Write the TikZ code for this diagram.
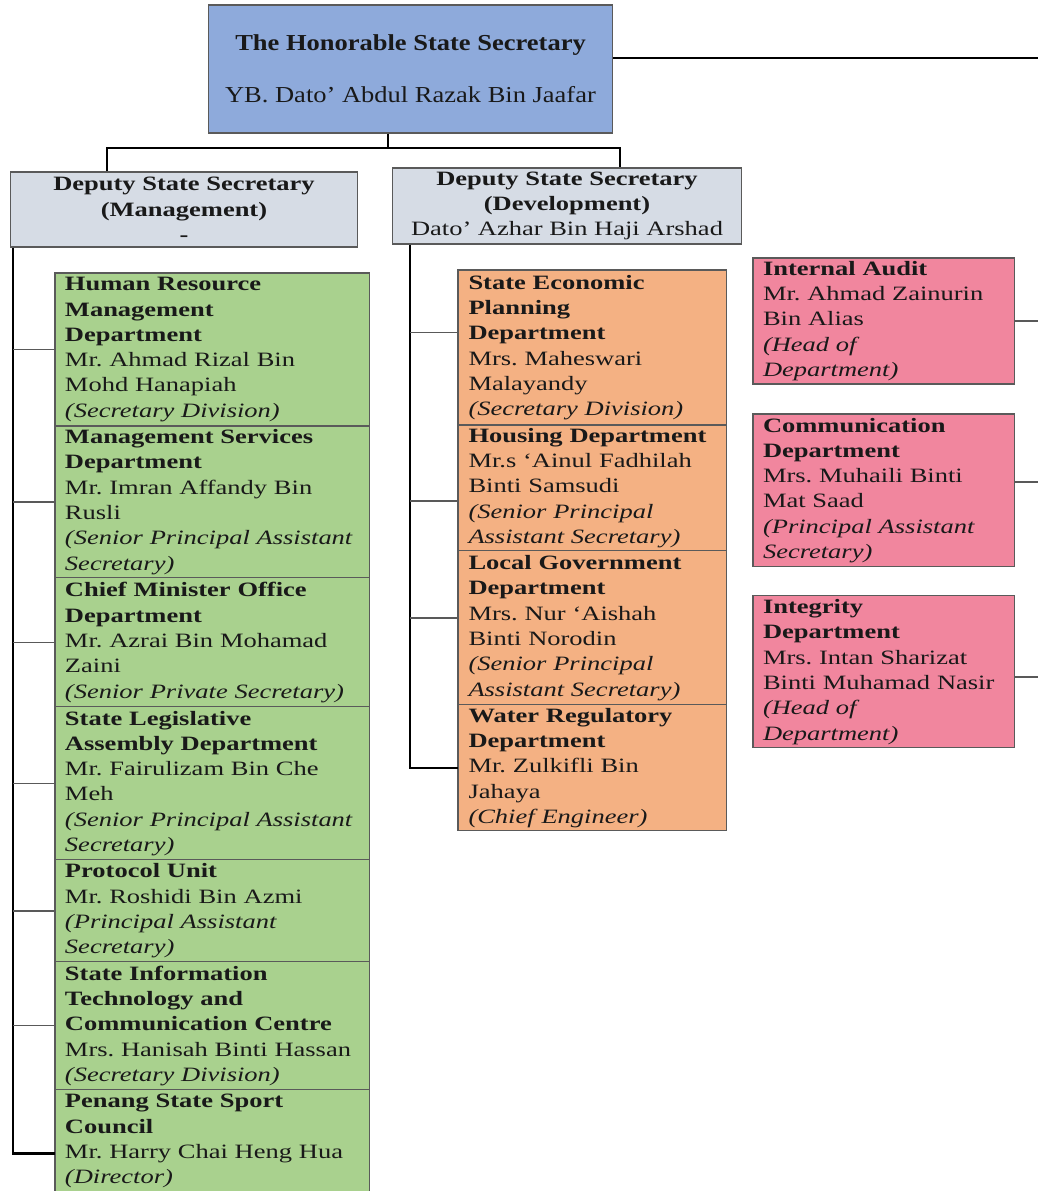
\documentclass[tikz,border=0pt]{standalone}
\usepackage{fontspec}
\setmainfont{Liberation Serif}[FakeStretch=1.3]
\newfontfamily\headfont{Liberation Serif}[FakeStretch=1.16]
\usepackage{xcolor}
\usetikzlibrary{positioning}

\definecolor{headblue}{RGB}{142,170,219}
\definecolor{deputygray}{RGB}{214,220,229}
\definecolor{mgmtgreen}{RGB}{169,209,142}
\definecolor{devorange}{RGB}{244,177,131}
\definecolor{unitpink}{RGB}{241,134,158}
\definecolor{boxline}{RGB}{90,90,90}

\begin{document}
\frenchspacing
\begin{tikzpicture}[
  x=0.02cm, y=-0.02cm,
  every node/.style={font=\fontsize{11.6}{14.4}\selectfont, text=black!90},
  trunk/.style={line width=1.6pt, black},
  branch/.style={line width=0.7pt, black!65},
  box/.style={draw=boxline, line width=0.6pt, inner ysep=0pt, outer sep=0pt, align=left, anchor=north west},
  mgmt/.style={box, fill=mgmtgreen, text width=5.9cm, inner xsep=0.2cm},
  dev/.style={box, fill=devorange, text width=4.96cm, inner xsep=0.21cm},
  unit/.style={box, fill=unitpink, text width=4.84cm, inner xsep=0.2cm},
  deputy/.style={draw=boxline, line width=0.6pt, fill=deputygray, align=center, inner sep=1pt, minimum height=1.5cm}
]
\useasboundingbox (0,0) rectangle (1038,1191);

% State Secretary
\node[draw=boxline, line width=0.6pt, fill=headblue, minimum width=8.1cm, minimum height=2.56cm,
  align=center, font=\headfont\fontsize{13}{15.6}\selectfont]
  (head) at (410.5,69) {\textbf{The Honorable State Secretary}\\[14pt]YB. Dato’ Abdul Razak Bin Jaafar};

% Deputies
\node[deputy, minimum width=6.96cm] (dmgmt) at (184,209.5)
  {\textbf{Deputy State Secretary}\\\textbf{(Management)}\\\textbf{-}};
\node[deputy, minimum width=7cm, minimum height=1.52cm] (ddev) at (567,206)
  {\textbf{Deputy State Secretary}\\\textbf{(Development)}\\Dato’ Azhar Bin Haji Arshad};

% Management departments (green)
\node[mgmt, minimum height=3.06cm] (hrm) at (55,273)
  {\textbf{Human Resource}\\\textbf{Management}\\\textbf{Department}\\Mr. Ahmad Rizal Bin\\Mohd Hanapiah\\\textit{(Secretary Division)}};
\node[mgmt, minimum height=3.04cm] (msd) at (hrm.south west)
  {\textbf{Management Services}\\\textbf{Department}\\Mr. Imran Affandy Bin\\Rusli\\\textit{(Senior Principal Assistant}\\\textit{Secretary)}};
\node[mgmt, minimum height=2.58cm] (cmo) at (msd.south west)
  {\textbf{Chief Minister Office}\\\textbf{Department}\\Mr. Azrai Bin Mohamad\\Zaini\\\textit{(Senior Private Secretary)}};
\node[mgmt, minimum height=3.06cm] (sla) at (cmo.south west)
  {\textbf{State Legislative}\\\textbf{Assembly Department}\\Mr. Fairulizam Bin Che\\Meh\\\textit{(Senior Principal Assistant}\\\textit{Secretary)}};
\node[mgmt, minimum height=2.04cm] (pro) at (sla.south west)
  {\textbf{Protocol Unit}\\Mr. Roshidi Bin Azmi\\\textit{(Principal Assistant}\\\textit{Secretary)}};
\node[mgmt, minimum height=2.56cm] (sitc) at (pro.south west)
  {\textbf{State Information}\\\textbf{Technology and}\\\textbf{Communication Centre}\\Mrs. Hanisah Binti Hassan\\\textit{(Secretary Division)}};
\node[mgmt, minimum height=2.06cm] (pssc) at (sitc.south west)
  {\textbf{Penang State Sport}\\\textbf{Council}\\Mr. Harry Chai Heng Hua\\\textit{(Director)}};

% Development departments (orange)
\node[dev, minimum height=3.1cm] (sep) at (458,270)
  {\textbf{State Economic}\\\textbf{Planning}\\\textbf{Department}\\Mrs. Maheswari\\Malayandy\\\textit{(Secretary Division)}};
\node[dev, minimum height=2.52cm] (hou) at (sep.south west)
  {\textbf{Housing Department}\\Mr.s ‘Ainul Fadhilah\\Binti Samsudi\\\textit{(Senior Principal}\\\textit{Assistant Secretary)}};
\node[dev, minimum height=3.08cm] (lgd) at (hou.south west)
  {\textbf{Local Government}\\\textbf{Department}\\Mrs. Nur ‘Aishah\\Binti Norodin\\\textit{(Senior Principal}\\\textit{Assistant Secretary)}};
\node[dev, minimum height=2.52cm] (wrd) at (lgd.south west)
  {\textbf{Water Regulatory}\\\textbf{Department}\\Mr. Zulkifli Bin\\Jahaya\\\textit{(Chief Engineer)}};

% Units under the State Secretary (pink)
\node[unit, minimum height=2.52cm] (ia) at (753,258)
  {\textbf{Internal Audit}\\Mr. Ahmad Zainurin\\Bin Alias\\\textit{(Head of}\\\textit{Department)}};
\node[unit, minimum height=3.06cm, below=0.6cm of ia.south west, anchor=north west] (com)
  {\textbf{Communication}\\\textbf{Department}\\Mrs. Muhaili Binti\\Mat Saad\\\textit{(Principal Assistant}\\\textit{Secretary)}};
\node[unit, minimum height=3.04cm, below=0.58cm of com.south west, anchor=north west] (itg)
  {\textbf{Integrity}\\\textbf{Department}\\Mrs. Intan Sharizat\\Binti Muhamad Nasir\\\textit{(Head of}\\\textit{Department)}};

% Lines
\coordinate (dropH) at (388,148);
\coordinate (dropL) at (107,148);
\coordinate (dropR) at (620,148);
\coordinate (edge) at (1038,0);
\coordinate (spineL) at (13,0);
\coordinate (spineD) at (410,0);
\coordinate (pssc-in) at ([yshift=-0.24cm]pssc.west);

\draw[trunk] ([yshift=0.22cm]head.east) -- ([yshift=0.22cm]head.east -| edge);
\draw[trunk] (head.south -| dropH) -- (dropH);
\draw[trunk] (dropL |- dmgmt.north) -- (dropL) -- (dropR) -- (dropR |- ddev.north);

\draw[trunk] (spineL |- dmgmt.south) |- (pssc-in);
\foreach \n in {hrm,msd,cmo,sla,pro,sitc}
  \draw[branch] (\n.west) -- (\n.west -| spineL);

\draw[trunk] (spineD |- ddev.south) |- (wrd.west);
\draw[branch] ([yshift=0.3cm]sep.west) -- ([yshift=0.3cm]sep.west -| spineD);
\draw[branch] ([yshift=-0.26cm]hou.west) -- ([yshift=-0.26cm]hou.west -| spineD);
\draw[branch] ([yshift=0.2cm]lgd.west) -- ([yshift=0.2cm]lgd.west -| spineD);

\draw[branch] (ia.east) -- (ia.east -| edge);
\draw[branch] ([yshift=0.17cm]com.east) -- ([yshift=0.17cm]com.east -| edge);
\draw[branch] ([yshift=-0.1cm]itg.east) -- ([yshift=-0.1cm]itg.east -| edge);

\end{tikzpicture}
\end{document}
